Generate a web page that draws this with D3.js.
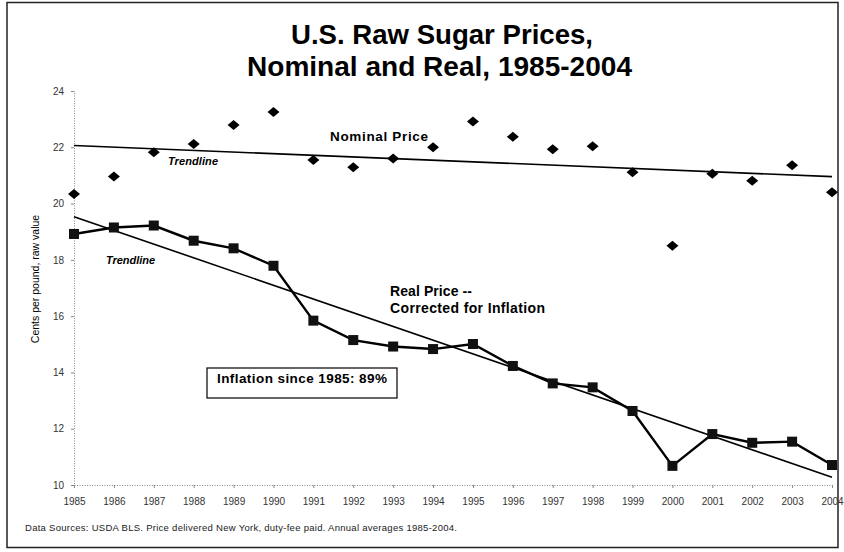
<!DOCTYPE html>
<html>
<head>
<meta charset="utf-8">
<script src="https://cdn.jsdelivr.net/npm/d3@7"></script>
<style>
  body { margin: 0; background: #fff; }
  svg { font-family: "Liberation Sans", Arial, sans-serif; }
</style>
</head>
<body>
<svg id="chart"></svg>
<script>
let width = 844
let height = 552

// values, cents per pound
let years = [1985, 1986, 1987, 1988, 1989, 1990, 1991, 1992, 1993, 1994,
             1995, 1996, 1997, 1998, 1999, 2000, 2001, 2002, 2003, 2004]
let nominal = [20.34, 20.96, 21.82, 22.12, 22.79, 23.25, 21.55, 21.29, 21.60, 22.00,
               22.92, 22.37, 21.93, 22.04, 21.11, 18.50, 21.06, 20.81, 21.36, 20.40]
let real = [18.92, 19.15, 19.22, 18.68, 18.41, 17.79, 15.84, 15.15, 14.92, 14.83,
            15.01, 14.23, 13.61, 13.47, 12.63, 10.68, 11.81, 11.50, 11.54, 10.71]
let yTicks = [10, 12, 14, 16, 18, 20, 22, 24]

let svg = d3.select('#chart')
  .attr('width', width)
  .attr('height', height)

let xScale = d3.scaleLinear().domain([1985, 2004]).range([74, 832])
let yScale = d3.scaleLinear().domain([10, 24]).range([485, 91])

// frame round the whole chart
svg.append('rect')
  .attr('x', 7).attr('y', 2.5)
  .attr('width', 831).attr('height', 545)
  .attr('fill', 'none')
  .attr('stroke', '#222')
  .attr('stroke-width', 1.5)

svg.append('text')
  .attr('x', 291).attr('y', 44)
  .attr('textLength', 302).attr('lengthAdjust', 'spacingAndGlyphs')
  .style('font-size', '28px').style('font-weight', 'bold')
  .text('U.S. Raw Sugar Prices,')
svg.append('text')
  .attr('x', 247).attr('y', 76)
  .attr('textLength', 385).attr('lengthAdjust', 'spacingAndGlyphs')
  .style('font-size', '28px').style('font-weight', 'bold')
  .text('Nominal and Real, 1985-2004')

// axes
let xAxis = d3.axisBottom(xScale)
  .tickValues(years)
  .tickFormat(d3.format('d'))
  .tickSize(3)
  .tickPadding(10)
svg.append('g')
  .attr('transform', 'translate(0,' + yScale(10) + ')')
  .call(xAxis)

let yAxis = d3.axisLeft(yScale)
  .tickValues(yTicks)
  .tickSize(3)
  .tickPadding(7)
svg.append('g')
  .attr('transform', 'translate(' + xScale(1985) + ',0)')
  .call(yAxis)

svg.selectAll('.domain')
  .attr('stroke', '#888')
  .attr('stroke-dasharray', '1,1.5')
svg.selectAll('.tick line').attr('stroke', '#888')
svg.selectAll('.tick text')
  .attr('fill', '#333')
  .style('font-size', '10px')

svg.append('text')
  .attr('transform', 'translate(39,279) rotate(-90)')
  .attr('text-anchor', 'middle')
  .style('font-size', '10.5px')
  .text('Cents per pound, raw value')

// least squares trendlines, like the spreadsheet ones
let trend = (vals) => {
  let mx = d3.mean(years)
  let my = d3.mean(vals)
  let num = d3.sum(years, (y, i) => (y - mx) * (vals[i] - my))
  let den = d3.sum(years, (y) => (y - mx) * (y - mx))
  let slope = num / den
  return [years[0], years[years.length - 1]].map((y) => [y, my + slope * (y - mx)])
}

let line = d3.line()
  .x((d) => xScale(d[0]))
  .y((d) => yScale(d[1]))

svg.append('path')
  .attr('d', line(trend(nominal)))
  .attr('fill', 'none').attr('stroke', '#000').attr('stroke-width', 1.6)
svg.append('path')
  .attr('d', line(trend(real)))
  .attr('fill', 'none').attr('stroke', '#000').attr('stroke-width', 1.6)

// real price line with square markers
let realPts = years.map((y, i) => [y, real[i]])
svg.append('path')
  .attr('d', line(realPts))
  .attr('fill', 'none').attr('stroke', '#000').attr('stroke-width', 2.4)
svg.selectAll('.sq')
  .data(realPts)
  .enter()
  .append('rect')
  .attr('class', 'sq')
  .attr('x', (d) => xScale(d[0]) - 5)
  .attr('y', (d) => yScale(d[1]) - 5)
  .attr('width', 10).attr('height', 10)
  .attr('fill', '#111')

// nominal price diamonds
let nomPts = years.map((y, i) => [y, nominal[i]])
svg.selectAll('.dia')
  .data(nomPts)
  .enter()
  .append('path')
  .attr('class', 'dia')
  .attr('d', 'M0,-5 L6,0 L0,5 L-6,0 Z')
  .attr('transform', (d) => 'translate(' + xScale(d[0]) + ',' + yScale(d[1]) + ')')
  .attr('fill', '#000')

// labels
svg.append('text')
  .attr('x', 330).attr('y', 141)
  .attr('textLength', 98)
  .style('font-size', '13.5px').style('font-weight', 'bold')
  .text('Nominal Price')
svg.append('text')
  .attr('x', 168).attr('y', 165)
  .attr('textLength', 50)
  .style('font-size', '11px').style('font-weight', 'bold').style('font-style', 'italic')
  .text('Trendline')
svg.append('text')
  .attr('x', 106).attr('y', 264)
  .attr('textLength', 49)
  .style('font-size', '11px').style('font-weight', 'bold').style('font-style', 'italic')
  .text('Trendline')
svg.append('text')
  .attr('x', 390).attr('y', 296)
  .attr('textLength', 82)
  .style('font-size', '14px').style('font-weight', 'bold')
  .text('Real Price --')
svg.append('text')
  .attr('x', 390).attr('y', 313)
  .attr('textLength', 155)
  .style('font-size', '14px').style('font-weight', 'bold')
  .text('Corrected for Inflation')

svg.append('rect')
  .attr('x', 207).attr('y', 368)
  .attr('width', 190).attr('height', 30)
  .attr('fill', '#fff').attr('stroke', '#000').attr('stroke-width', 1.2)
svg.append('text')
  .attr('x', 217).attr('y', 383)
  .attr('textLength', 170)
  .style('font-size', '13.5px').style('font-weight', 'bold')
  .text('Inflation since 1985: 89%')

svg.append('text')
  .attr('x', 25).attr('y', 531)
  .attr('textLength', 432)
  .attr('fill', '#222')
  .style('font-size', '9.5px')
  .text('Data Sources:  USDA  BLS.  Price delivered New York, duty-fee paid.  Annual averages 1985-2004.')
</script>
</body>
</html>
